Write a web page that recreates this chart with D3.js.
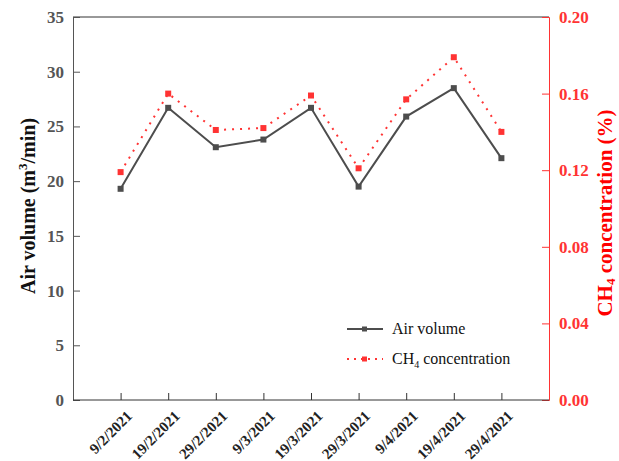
<!DOCTYPE html>
<html>
<head>
<meta charset="utf-8">
<script src="https://cdn.jsdelivr.net/npm/d3@7/dist/d3.min.js"></script>
<style>
  html, body { margin: 0; padding: 0; background: #fff; }
  svg { display: block; }
  svg text { font-family: "Liberation Serif", "Times New Roman", serif !important; }
</style>
</head>
<body>
<svg id="chart" width="619" height="461"></svg>
<script>
// Sampling dates
const dates = ["9/2/2021", "19/2/2021", "29/2/2021", "9/3/2021", "19/3/2021",
               "29/3/2021", "9/4/2021", "19/4/2021", "29/4/2021"];
// Air volume (m3/min)
const airVolume = [19.3, 26.7, 23.1, 23.8, 26.7, 19.5, 25.9, 28.5, 22.1];
// CH4 concentration (%)
const ch4 = [0.119, 0.160, 0.141, 0.142, 0.159, 0.121, 0.157, 0.179, 0.140];
// Axis ticks
const leftTicks = [0, 5, 10, 15, 20, 25, 30, 35];
const rightTicks = [0, 0.04, 0.08, 0.12, 0.16, 0.20];

const svg = d3.select("#chart");
const margin = { left: 73, right: 70, top: 17, bottom: 61 };
const W = 619, H = 461;
const x0 = margin.left, x1 = W - margin.right;
const y0 = H - margin.bottom, y1 = margin.top;

const dark = "#4d4d4d";
const red = "#ff3333";

const x = d3.scalePoint().domain(dates).range([x0, x1]).padding(1);
const yL = d3.scaleLinear().domain([0, 35]).range([y0, y1]);
const yR = d3.scaleLinear().domain([0, 0.20]).range([y0, y1]);

// Frame top line
svg.append("line").attr("x1", x0).attr("x2", x1).attr("y1", y1).attr("y2", y1)
  .attr("stroke", "#333").attr("stroke-width", 1);

// Left axis
const gL = svg.append("g").attr("transform", `translate(${x0},0)`)
  .call(d3.axisLeft(yL).tickValues(leftTicks).tickSize(-7).tickPadding(9).tickFormat(d3.format("d")));
gL.select(".domain").attr("stroke", "#555");
gL.selectAll(".tick line").attr("stroke", "#555");
gL.selectAll(".tick text").attr("fill", "#555")
  .style("font-size", "17px").style("font-weight", "bold");

// Right axis
const gR = svg.append("g").attr("transform", `translate(${x1},0)`)
  .call(d3.axisRight(yR).tickValues(rightTicks).tickSize(-7).tickPadding(10).tickFormat(d3.format(".2f")));
gR.select(".domain").attr("stroke", red);
gR.selectAll(".tick line").attr("stroke", red);
gR.selectAll(".tick text").attr("fill", red)
  .style("font-size", "17px").style("font-weight", "bold");

// Bottom axis
const gB = svg.append("g").attr("transform", `translate(0,${y0})`)
  .call(d3.axisBottom(x).tickSize(-7).tickSizeOuter(0));
gB.select(".domain").attr("stroke", "#333").attr("d", `M${x0},0H${x1}`);
gB.selectAll(".tick line").attr("stroke", "#333");
gB.selectAll(".tick text")
  .attr("fill", "#222")
  .style("font-size", "15px").style("font-weight", "bold")
  .attr("text-anchor", "end")
  .attr("dy", null).attr("y", null)
  .attr("transform", "translate(12,17) rotate(-45)");

// Axis titles
svg.append("text")
  .attr("transform", `translate(35,206) rotate(-90)`)
  .attr("text-anchor", "middle").style("font-size", "20px").style("font-weight", "bold").attr("fill", "#111")
  .call(t => {
    t.append("tspan").text("Air volume (m");
    t.append("tspan").style("font-size", "13px").attr("dy", -8).text("3");
    t.append("tspan").attr("dy", 8).text("/min)");
  });

svg.append("text")
  .attr("transform", `translate(612,213) rotate(-90)`)
  .attr("text-anchor", "middle").style("font-size", "21px").style("font-weight", "bold").attr("fill", "#ff0000")
  .call(t => {
    t.append("tspan").text("CH");
    t.append("tspan").style("font-size", "13px").attr("dy", 3).text("4");
    t.append("tspan").attr("dy", -3).text(" concentration (%)");
  });

// CH4 series (dotted red)
const lineR = d3.line().x((d, i) => x(dates[i])).y(d => yR(d));
svg.append("path").datum(ch4).attr("d", lineR)
  .attr("fill", "none").attr("stroke", red).attr("stroke-width", 2)
  .attr("stroke-dasharray", "2,6");
svg.append("g").selectAll("rect").data(ch4).join("rect")
  .attr("x", (d, i) => x(dates[i]) - 3).attr("y", d => yR(d) - 3)
  .attr("width", 6).attr("height", 6).attr("fill", red);

// Air volume series (solid dark)
const lineL = d3.line().x((d, i) => x(dates[i])).y(d => yL(d));
svg.append("path").datum(airVolume).attr("d", lineL)
  .attr("fill", "none").attr("stroke", dark).attr("stroke-width", 2);
svg.append("g").selectAll("rect").data(airVolume).join("rect")
  .attr("x", (d, i) => x(dates[i]) - 3).attr("y", d => yL(d) - 3)
  .attr("width", 6).attr("height", 6).attr("fill", dark);

// Legend
const lg = svg.append("g");
lg.append("line").attr("x1", 347).attr("x2", 383).attr("y1", 329).attr("y2", 329)
  .attr("stroke", dark).attr("stroke-width", 2);
lg.append("rect").attr("x", 362).attr("y", 326.5).attr("width", 5).attr("height", 5).attr("fill", dark);
lg.append("text").attr("x", 392).attr("y", 334).style("font-size", "16px").attr("fill", "#111").text("Air volume");

lg.append("line").attr("x1", 347).attr("x2", 383).attr("y1", 359).attr("y2", 359)
  .attr("stroke", red).attr("stroke-width", 2).attr("stroke-dasharray", "2,5");
lg.append("rect").attr("x", 362).attr("y", 356.5).attr("width", 5).attr("height", 5).attr("fill", red);
lg.append("text").attr("x", 392).attr("y", 364).style("font-size", "16px").attr("fill", "#111")
  .call(t => {
    t.append("tspan").text("CH");
    t.append("tspan").style("font-size", "10px").attr("dy", 4).text("4");
    t.append("tspan").attr("dy", -4).text(" concentration");
  });
</script>
</body>
</html>
